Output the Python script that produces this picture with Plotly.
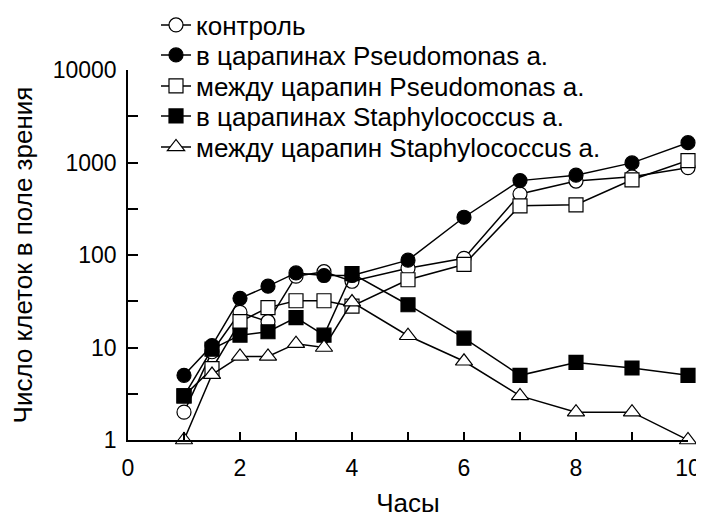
import plotly.graph_objects as go

hours = [1, 1.5, 2, 2.5, 3, 3.5, 4, 5, 6, 7, 8, 9, 10]

names = [
    "контроль",
    "в царапинах Pseudomonas a.",
    "между царапин Pseudomonas a.",
    "в царапинах Staphylococcus a.",
    "между царапин Staphylococcus a.",
]

control = [2, 9, 24, 19, 59, 66, 52, 72, 92, 456, 630, 700, 880]
pseudo_in = [5, 10.5, 34, 46, 64, 60, 60, 88, 256, 637, 730, 990, 1640]
pseudo_between = [3, 5.9, 19, 27, 32, 32, 28, 54, 79, 340, 349, 650, 1050]
staph_in = [3, 9.6, 13.6, 14.8, 21, 13.6, 63, 29, 12.6, 5, 6.9, 6, 5]
staph_between = [1, 5.1, 8, 8, 11, 10, 31, 13.4, 7.1, 3, 2, 2, 1]

series = [control, pseudo_in, pseudo_between, staph_in, staph_between]
symbols = ["circle", "circle", "square", "square", "triangle-up"]
fills = ["white", "black", "white", "black", "white"]
sizes = [14, 14, 14, 14, 15]

x_ticks = list(range(0, 11))
x_ticktext = [str(v) if v % 2 == 0 else "" for v in x_ticks]
y_ticks = [1, 3.1623, 10, 31.623, 100, 316.23, 1000, 3162.3, 10000]
y_ticktext = ["1", "", "10", "", "100", "", "1000", "", "10000"]

FONT = "Liberation Sans, Arial, sans-serif"

# legend rows (paper y of each legend entry centre)
legend_rows = [1.1216, 1.0405, 0.9568, 0.8757, 0.7919]
legend_ids = ["legend", "legend2", "legend3", "legend4", "legend5"]

fig = go.Figure()
for name, vals, sym, fc, sz, lid in zip(names, series, symbols, fills, sizes, legend_ids):
    fig.add_trace(go.Scatter(
        x=hours, y=vals, name=name, mode="lines+markers",
        line=dict(color="black", width=1.5),
        marker=dict(symbol=sym, size=sz, color=fc, line=dict(color="black", width=1.2)),
        cliponaxis=False, legend=lid,
    ))

layout_legends = {}
for lid, ly in zip(legend_ids, legend_rows):
    layout_legends[lid] = dict(
        x=0.05, y=ly, xanchor="left", yanchor="middle",
        bgcolor="rgba(0,0,0,0)", font=dict(size=26, family=FONT, color="black"),
        itemwidth=30, borderwidth=0,
    )

fig.update_layout(
    width=696, height=510,
    margin=dict(l=120, r=16, t=62, b=78, autoexpand=False),
    paper_bgcolor="white", plot_bgcolor="white",
    font=dict(family=FONT, color="black", size=22),
    showlegend=True,
    xaxis=dict(
        range=[0, 10], tickvals=x_ticks, ticktext=x_ticktext,
        ticks="inside", ticklen=8, tickwidth=1.5, tickcolor="black",
        showline=True, linecolor="black", linewidth=1.5, mirror=False,
        showgrid=False, zeroline=False, ticklabelstandoff=7,
        ticklabeloverflow="allow",
        tickfont=dict(size=23),
        title=dict(text="Часы", font=dict(size=26), standoff=14),
    ),
    yaxis=dict(
        type="log", range=[0, 4], tickvals=y_ticks, ticktext=y_ticktext,
        ticks="inside", ticklen=10, tickwidth=1.5, tickcolor="black",
        showline=True, linecolor="black", linewidth=1.5, mirror=False,
        showgrid=False, zeroline=False, ticklabelstandoff=5,
        ticklabeloverflow="allow",
        tickfont=dict(size=23),
        title=dict(text="Число клеток в поле зрения", font=dict(size=26), standoff=18),
    ),
    **layout_legends,
)

fig.write_html("out.html")
